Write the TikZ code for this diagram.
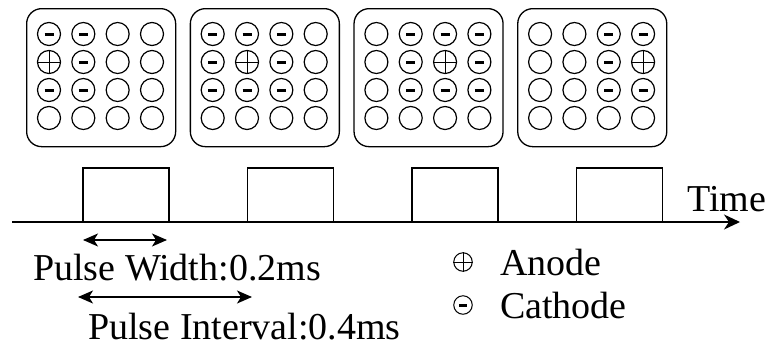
\documentclass[tikz,border=0pt]{standalone}
\usepackage{fontspec}
\setmainfont{Liberation Serif}
\usetikzlibrary{arrows.meta}
\tikzset{
  panel/.style={draw, line width=1.3pt, rounded corners=15pt, minimum width=149pt, minimum height=138pt, anchor=north west, inner sep=0pt},
  cell/.style={circle, draw, line width=1.2pt, minimum size=23pt, inner sep=0pt},
  legcell/.style={circle, draw, line width=1pt, minimum size=18.5pt, inner sep=0pt},
  lbl/.style={font=\fontsize{38}{40}\selectfont, inner sep=0pt, anchor=base west},
  pulse/.style={line width=1.5pt},
  minusbar/.style={line width=3pt},
  plusbar/.style={line width=0.8pt},
  dimarrow/.style={line width=1.3pt, {Stealth[length=15pt,width=13pt,inset=4pt]}-{Stealth[length=15pt,width=13pt,inset=4pt]}},
  timearrow/.style={line width=1.5pt, -{Stealth[length=16pt,width=15pt,inset=5pt]}},
}
\newcommand{\mkminus}[1]{\draw[minusbar] ([xshift=-4.5pt]#1.center) -- ([xshift=4.5pt]#1.center);}
\newcommand{\mkplus}[1]{\draw[plusbar] (#1.north) -- (#1.south) (#1.west) -- (#1.east);}
\begin{document}
\begin{tikzpicture}[x=1pt,y=-1pt]
\useasboundingbox (0,0) rectangle (768,346);
% panels with electrode grids
\foreach \p in {1,2,3,4}{
  \pgfmathsetmacro\px{26+163.7*(\p-1)}
  \node[panel] (panel\p) at (\px,8) {};
  \foreach \c in {1,2,3,4}{
    \foreach \r in {1,2,3,4}{
      \pgfmathsetmacro\cx{\px+23+34.33*(\c-1)}
      \pgfmathsetmacro\cy{34+28*(\r-1)}
      \node[cell] (c\p\c\r) at (\cx,\cy) {};
      \pgfmathtruncatemacro\dist{abs(\c-\p)}
      \ifnum\r<4 \ifnum\dist<2
        \ifnum\c=\p \ifnum\r=2 \mkplus{c\p\c\r}\else\mkminus{c\p\c\r}\fi
        \else\mkminus{c\p\c\r}\fi
      \fi\fi
    }
  }
}
% time axis
\coordinate (t0) at (12,222);
\coordinate (tend) at (740,222);
\draw[timearrow] (t0) -- (tend);
\foreach \k in {0,1,2,3}{
  \pgfmathsetmacro\xa{83+164.5*\k}
  \coordinate (pa\k) at (\xa,222);
  \coordinate (pb\k) at (\xa+86,222);
  \draw[pulse] (pa\k) -- ++(0,-54) -| (pb\k);
}
\node[lbl] (time) at (687,211) {Time};
% dimension arrows
\coordinate (w0) at (83,240);
\coordinate (w1) at (167,240);
\draw[dimarrow] (w0) -- (w1);
\coordinate (i0) at (78,297);
\coordinate (i1) at (252,297);
\draw[dimarrow] (i0) -- (i1);
\node[lbl] (pw) at (33,280) {Pulse Width:0.2ms};
\node[lbl] (pi) at (88,339) {Pulse Interval:0.4ms};
% legend
\node[legcell] (lplus) at (463,262) {};
\mkplus{lplus}
\node[legcell] (lminus) at (463,305) {};
\draw[line width=3pt] ([xshift=-4pt]lminus.center) -- ([xshift=4pt]lminus.center);
\node[lbl] (anode) at (500,275) {Anode};
\node[lbl] (cathode) at (500,318) {Cathode};
\end{tikzpicture}
\end{document}
